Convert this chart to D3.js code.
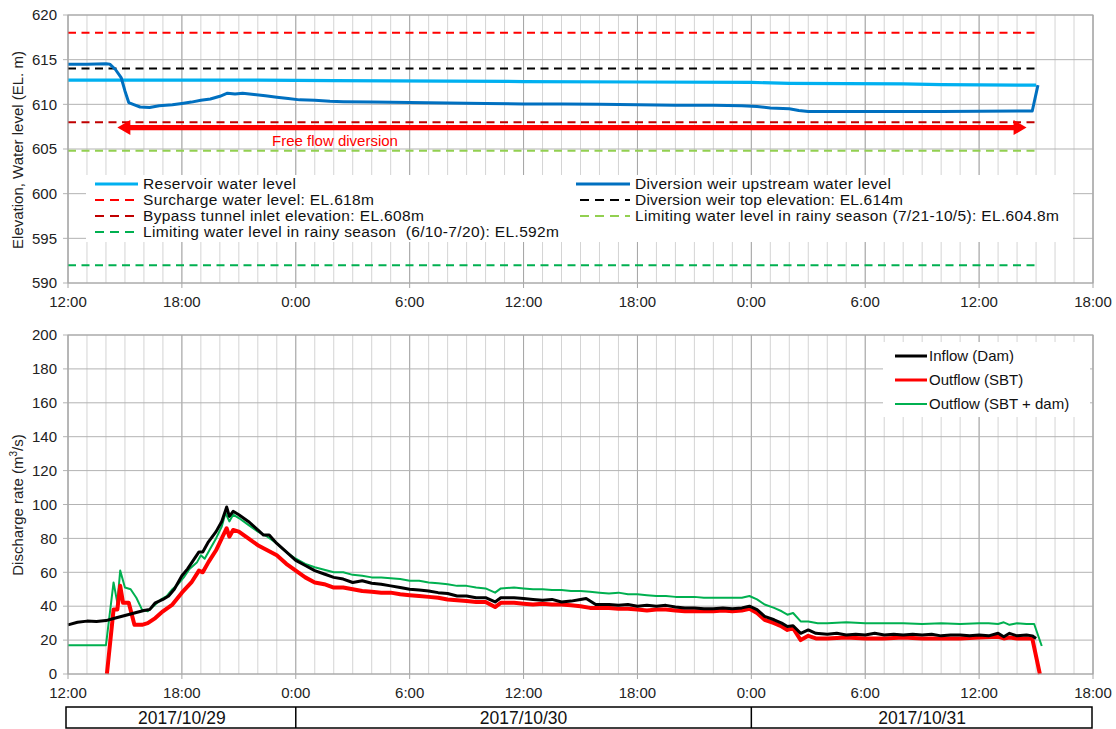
<!DOCTYPE html>
<html><head><meta charset="utf-8">
<script src="https://cdn.jsdelivr.net/npm/d3@7"></script>
<style>
html,body{margin:0;padding:0;background:#fff;}
svg{display:block;font-family:"Liberation Sans",Arial,sans-serif;}
text{white-space:pre;}
</style></head>
<body><svg id="c" width="1116" height="729"></svg>
<script>
// ---------- DATA (time = hours since 2017/10/29 12:00) ----------
const xTickLabels = ["12:00","18:00","0:00","6:00","12:00","18:00","0:00","6:00","12:00","18:00"];
const dateLabels = ["2017/10/29","2017/10/30","2017/10/31"];
const topYTicks = [590,595,600,605,610,615,620];
const botYTicks = [0,20,40,60,80,100,120,140,160,180,200];

const reservoirLevel = [[0,612.7],[10,612.7],[14,612.65],[20,612.6],[24,612.55],[30,612.5],[36,612.45],[38,612.35],[44,612.3],[46,612.2],[51,612.15]];
const weirUpstreamLevel = [[0,614.5],[1,614.5],[2.0,614.55],[2.2,614.5],[2.5,613.9],[2.8,613.0],[3.0,611.5],[3.2,610.2],[3.5,609.95],[3.8,609.7],[4.3,609.65],[4.8,609.85],[5.5,609.95],[6,610.1],[6.5,610.25],[7.0,610.45],[7.5,610.6],[8.0,610.9],[8.4,611.25],[8.8,611.15],[9.2,611.25],[9.8,611.1],[10.4,610.95],[11.0,610.8],[11.6,610.65],[12.2,610.5],[13,610.45],[13.8,610.35],[14.5,610.3],[16,610.25],[18,610.2],[20,610.15],[22,610.1],[24,610.05],[26,610.05],[28,610.0],[30,609.95],[32,609.9],[34,609.9],[35.5,609.85],[36.3,609.75],[37,609.6],[38,609.5],[38.5,609.3],[39,609.2],[42,609.2],[46,609.2],[50.8,609.25],[51.1,612.15]];

const refNames = ["Surcharge water level: EL.618m","Diversion weir top elevation: EL.614m","Bypass tunnel inlet elevation: EL.608m","Limiting water level in rainy season (7/21-10/5): EL.604.8m","Limiting water level in rainy season  (6/10-7/20): EL.592m"];
const refLevels = [618, 614, 608, 604.8, 592];
const refEnd = [0, 51];
const arrowSpan = [2.6, 50.5];
const arrowLevel = 607.4;

const inflowDam = [[0,29],[0.5,30.5],[1,31.2],[1.5,31],[2,31.5],[2.5,33],[3,34.5],[3.5,36],[4,37.5],[4.3,38],[4.6,42],[5,44],[5.3,46],[5.6,50],[6,58],[6.3,62],[6.6,67],[6.9,72],[7.1,72],[7.4,78],[7.8,84],[8.1,90],[8.36,98.5],[8.5,93],[8.7,96],[9,94],[9.5,90],[10,85],[10.3,82],[10.6,82],[11,77],[11.5,72],[12,67],[12.5,64],[13,61],[13.5,59],[14,57],[14.5,56],[15,54],[15.5,55],[16,53.5],[16.5,53],[17,52],[17.5,51],[18,50],[18.5,49.5],[19,49],[19.5,48],[20,47.5],[20.5,46],[21,46],[21.5,45],[22,45],[22.5,42.5],[22.8,45],[23.5,45],[24,44.5],[24.5,44],[25,43.5],[25.5,44],[26,42.5],[26.5,43],[27,44],[27.3,44.5],[27.8,41],[28.5,41],[29,40.5],[29.5,41],[30,40],[30.5,40.5],[31,40],[31.5,40.5],[32,39.5],[32.5,39],[33,39],[33.5,38.5],[34,38.5],[34.5,39],[35,38.5],[35.5,39],[35.9,40],[36.3,38],[36.7,34],[37.2,32],[37.6,30],[37.9,28],[38.2,28.5],[38.6,24],[39,26],[39.4,24],[40,23.5],[40.5,24],[41,23],[41.5,23.5],[42,23],[42.5,24],[43,23],[43.5,23.5],[44,23],[44.5,23.5],[45,23],[45.5,23.5],[46,22.5],[46.5,23],[47,23],[47.5,22.5],[48,23],[48.5,22.5],[49,24],[49.3,22],[49.6,24],[50,22.5],[50.5,23],[50.8,22.5],[51.0,21]];

const outflowSBT = [[2.05,0],[2.4,38],[2.6,38],[2.75,52],[2.9,42],[3.2,42],[3.5,29],[3.9,29],[4.2,30],[4.6,33],[5,37],[5.5,41],[6,48],[6.5,54],[6.9,61],[7.1,60],[7.4,66],[7.8,73],[8.1,80],[8.36,86],[8.5,81],[8.7,85],[9,84],[9.5,80],[10,76],[10.5,73],[11,70],[11.5,65],[12,61],[12.5,57],[13,54],[13.5,53],[14,51],[14.5,51],[15,50],[15.5,49],[16,48.5],[16.5,48],[17,48],[17.5,47],[18,46.5],[18.5,46],[19,45.5],[19.5,45],[20,44],[20.5,43.5],[21,43],[21.5,42.5],[22,42.5],[22.5,39.5],[22.8,42],[23.5,42],[24,41.5],[24.5,41],[25,41.5],[25.5,41],[26,41],[26.5,40.5],[27,40],[27.5,39],[28,39],[28.5,39],[29,38.5],[29.5,38.5],[30,38],[30.5,37.5],[31,38],[31.5,38],[32,37.5],[32.5,37],[33,37],[33.5,37],[34,37],[34.5,37.5],[35,37],[35.5,37.5],[35.9,38.5],[36.3,36],[36.7,32],[37.2,30],[37.6,28],[37.9,26],[38.2,27],[38.6,20],[39,22.5],[39.4,21],[40,21],[41,21.5],[42,21],[43,21],[44,21.5],[45,21],[46,21],[47,21],[48,21.5],[49,22],[49.3,21],[49.6,21.5],[50,21],[50.8,21],[51.2,0]];

const outflowTotal = [[0,17],[2.0,17],[2.4,54],[2.6,42],[2.75,61],[3.0,51],[3.3,50],[3.6,45],[3.9,38],[4.2,37],[4.5,40],[4.9,44],[5.2,46],[5.5,50],[5.8,53],[6.1,57],[6.4,62],[6.8,66],[7.0,70],[7.2,68],[7.5,74],[7.8,80],[8.1,87],[8.3,95],[8.5,90],[8.7,94],[9,92],[9.5,88],[10,84],[10.5,81],[11,77],[11.5,72],[12,68],[12.5,65],[13,63],[13.5,61.5],[14,60],[14.5,60],[15,58.5],[15.5,58],[16,57],[16.5,57],[17,56.5],[17.5,56],[18,55],[18.5,55],[19,54],[19.5,53.5],[20,53],[20.5,52],[21,52],[21.5,51],[22,50.5],[22.5,48],[22.8,50.5],[23.5,51],[24,50.5],[24.5,50],[25,50],[25.5,49.5],[26,49.5],[26.5,49],[27,49],[27.5,48.5],[28,48],[28.5,47.5],[29,48],[29.5,47],[30,47],[30.5,46.5],[31,46],[31.5,46],[32,45.5],[32.5,45.5],[33,45.5],[33.5,45],[34,45],[34.5,45],[35,45],[35.5,45],[35.9,46],[36.3,44],[36.7,41],[37.2,39],[37.6,37],[37.9,35],[38.2,36],[38.6,31],[39,31],[39.5,30],[40,30],[41,30.5],[42,30],[43,30],[44,30],[45,29.5],[46,30],[47,29.5],[48,30],[48.5,30],[49,29.5],[49.3,30.5],[49.6,29],[50,30],[50.5,29.5],[50.9,29.5],[51.3,16.5]];

// ---------- LAYOUT ----------
const svg = d3.select("#c");
const t0 = Date.UTC(2017,9,29,12);
const toDate = h => new Date(t0 + h*3600e3);
const x = d3.scaleUtc().domain([toDate(0), toDate(54)]).range([68, 1093]);
const yTop = d3.scaleLinear().domain([590,620]).range([283,15]);
const yBot = d3.scaleLinear().domain([0,200]).range([674,335]);
const majorTicks = d3.utcHour.every(6).range(toDate(0), toDate(54.01));
const minorTicks = d3.utcHour.every(1).range(toDate(0), toDate(54.01));

function grid(y, yTicks, yRange){
  const g = svg.append("g");
  g.selectAll(".mn").data(minorTicks).join("line")
    .attr("x1",d=>x(d)).attr("x2",d=>x(d)).attr("y1",yRange[0]).attr("y2",yRange[1])
    .attr("stroke","#d4d4d4").attr("stroke-width",1);
  g.selectAll(".mj").data(majorTicks).join("line")
    .attr("x1",d=>x(d)).attr("x2",d=>x(d)).attr("y1",yRange[0]).attr("y2",yRange[1]+5)
    .attr("stroke","#a6a6a6").attr("stroke-width",1);
  g.selectAll(".hz").data(yTicks).join("line")
    .attr("x1",x.range()[0]-5).attr("x2",x.range()[1]).attr("y1",d=>y(d)).attr("y2",d=>y(d))
    .attr("stroke","#b3b3b3").attr("stroke-width",1);
  g.selectAll(".yl").data(yTicks).join("text")
    .attr("x",57).attr("y",d=>y(d)).attr("dy","0.35em").attr("text-anchor","end")
    .attr("font-size",15).attr("fill","#222").text(d=>d);
  g.selectAll(".xl").data(majorTicks).join("text")
    .attr("x",d=>x(d)).attr("y",yRange[1]+24).attr("text-anchor","middle")
    .attr("font-size",15).attr("fill","#222").text((d,i)=>xTickLabels[i]);
}
grid(yTop, topYTicks, [15,283]);
grid(yBot, botYTicks, [335,674]);

const lineGen = y => d3.line().x(d=>x(toDate(d[0]))).y(d=>y(d[1]));

// ---------- TOP CHART ----------
const refColors = ["#ff0000","#000000","#c00000","#92d050","#00b050"];
svg.append("g").selectAll("line").data(refLevels).join("line")
  .attr("x1",x(toDate(refEnd[0]))).attr("x2",x(toDate(refEnd[1])))
  .attr("y1",d=>yTop(d)).attr("y2",d=>yTop(d))
  .attr("stroke",(d,i)=>refColors[i]).attr("stroke-width",2).attr("stroke-dasharray","8,5.5");

svg.append("path").datum(reservoirLevel).attr("d",lineGen(yTop))
  .attr("fill","none").attr("stroke","#00b0f0").attr("stroke-width",3.2);
svg.append("path").datum(weirUpstreamLevel).attr("d",lineGen(yTop))
  .attr("fill","none").attr("stroke","#0070c0").attr("stroke-width",3).attr("stroke-linejoin","round");

// free flow arrow
{
  const xa = x(toDate(arrowSpan[0])), xb = x(toDate(arrowSpan[1])), ya = yTop(arrowLevel);
  const hl = 13, hh = 7.5, sw = 2.6;
  svg.append("path").attr("fill","#ff0000")
    .attr("d",`M${xa},${ya} L${xa+hl},${ya-hh} L${xa+hl},${ya-sw} L${xb-hl},${ya-sw} L${xb-hl},${ya-hh} L${xb},${ya} L${xb-hl},${ya+hh} L${xb-hl},${ya+sw} L${xa+hl},${ya+sw} L${xa+hl},${ya+hh} Z`);
  svg.append("text").attr("x",335).attr("y",ya+18).attr("text-anchor","middle")
    .attr("font-size",15).attr("fill","#ff0000").text("Free flow diversion");
}

// top legend
{
  const g = svg.append("g");
  g.append("rect").attr("x",86).attr("y",175).attr("width",987).attr("height",67).attr("fill","#fff");
  const items = [
    {x1:95, t:143, y:184, name:"Reservoir water level", color:"#00b0f0", dash:null, w:3, len:153},
    {x1:95, t:143, y:200, name:refNames[0], color:refColors[0], dash:"9,6", w:2, len:231},
    {x1:95, t:143, y:216, name:refNames[2], color:refColors[2], dash:"9,6", w:2, len:281},
    {x1:95, t:143, y:232, name:refNames[4], color:refColors[4], dash:"9,6", w:2, len:416},
    {x1:576, t:635, y:184, name:"Diversion weir upstream water level", color:"#0070c0", dash:null, w:3, len:256},
    {x1:580, t:635, y:200, name:refNames[1], color:refColors[1], dash:"9,6", w:2, len:268},
    {x1:580, t:635, y:216, name:refNames[3], color:refColors[3], dash:"9,6", w:2, len:424},
  ];
  items.forEach(it=>{
    const ln = g.append("line").attr("x1",it.x1).attr("x2",it.t - 5).attr("y1",it.y).attr("y2",it.y)
      .attr("stroke",it.color).attr("stroke-width",it.w);
    if(it.dash) ln.attr("stroke-dasharray",it.dash);
    g.append("text").attr("x",it.t).attr("y",it.y).attr("dy","0.35em")
      .attr("font-size",15.5).attr("fill","#111")
      .attr("textLength",it.len).attr("lengthAdjust","spacing").text(it.name);
  });
}

svg.append("rect").attr("x",68).attr("y",15).attr("width",1025).attr("height",268)
  .attr("fill","none").attr("stroke","#a6a6a6");

// ---------- BOTTOM CHART ----------
svg.append("path").datum(outflowTotal).attr("d",lineGen(yBot))
  .attr("fill","none").attr("stroke","#00b050").attr("stroke-width",2).attr("stroke-linejoin","round");
svg.append("path").datum(outflowSBT).attr("d",lineGen(yBot))
  .attr("fill","none").attr("stroke","#ff0000").attr("stroke-width",4).attr("stroke-linejoin","round");
svg.append("path").datum(inflowDam).attr("d",lineGen(yBot))
  .attr("fill","none").attr("stroke","#000").attr("stroke-width",3).attr("stroke-linejoin","round");

{
  const g = svg.append("g");
  g.append("rect").attr("x",883).attr("y",342).attr("width",207).attr("height",75).attr("fill","#fff");
  const items = [["Inflow (Dam)","#000",3,356],["Outflow (SBT)","#ff0000",3,380],["Outflow (SBT + dam)","#00b050",2,404]];
  items.forEach(it=>{
    g.append("line").attr("x1",895).attr("x2",927).attr("y1",it[3]).attr("y2",it[3])
      .attr("stroke",it[1]).attr("stroke-width",it[2]);
    g.append("text").attr("x",929).attr("y",it[3]).attr("dy","0.35em")
      .attr("font-size",15).attr("fill","#111").text(it[0]);
  });
}
svg.append("rect").attr("x",68).attr("y",335).attr("width",1025).attr("height",339)
  .attr("fill","none").attr("stroke","#a6a6a6");

// y-axis titles
svg.append("text").attr("transform","translate(23,150) rotate(-90)").attr("text-anchor","middle")
  .attr("font-size",15).attr("fill","#222").text("Elevation, Water level (EL. m)");
const yt = svg.append("text").attr("transform","translate(23,505) rotate(-90)").attr("text-anchor","middle")
  .attr("font-size",15).attr("fill","#222");
yt.append("tspan").text("Discharge rate (m");
yt.append("tspan").attr("font-size",10).attr("dy",-6).text("3");
yt.append("tspan").attr("dy",6).text("/s)");

// date bar
{
  const g = svg.append("g");
  const bounds = [toDate(0), toDate(12), toDate(36), toDate(54)];
  g.append("rect").attr("x",x(bounds[0])-2).attr("y",707).attr("width",x(bounds[3])-x(bounds[0])+1).attr("height",21)
    .attr("fill","#fff").attr("stroke","#000").attr("stroke-width",1.5);
  [1,2].forEach(i=>g.append("line").attr("x1",x(bounds[i])).attr("x2",x(bounds[i])).attr("y1",707).attr("y2",728)
    .attr("stroke","#000").attr("stroke-width",1.5));
  dateLabels.forEach((d,i)=>{
    g.append("text").attr("x",(x(bounds[i])+x(bounds[i+1]))/2).attr("y",718).attr("dy","0.35em")
      .attr("text-anchor","middle").attr("font-size",17.5).attr("fill","#111").text(d);
  });
}
</script></body></html>
